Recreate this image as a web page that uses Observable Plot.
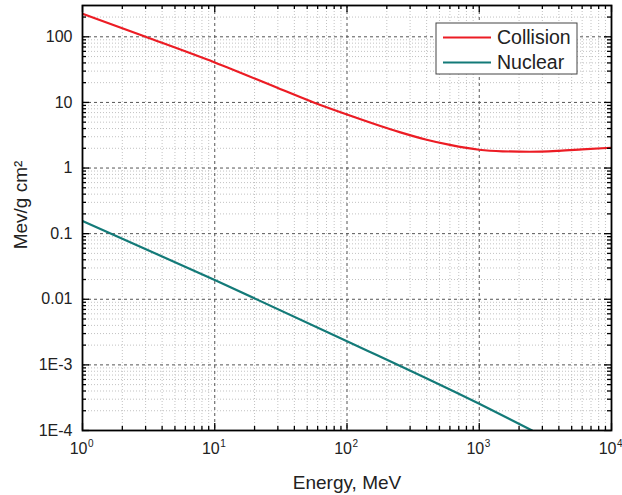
<!DOCTYPE html>
<html>
<head>
<meta charset="utf-8">
<script src="https://cdn.jsdelivr.net/npm/d3@7"></script>
<script src="https://cdn.jsdelivr.net/npm/@observablehq/plot@0.6"></script>
<style>
  body { margin: 0; background: #fff; }
  svg { font-family: "Liberation Sans", Arial, sans-serif; }
</style>
</head>
<body>
<div id="chart"></div>
<script>
// Stopping power series (energy in MeV, value in MeV/g cm^2)
const seriesNames = ["Collision", "Nuclear"];
const seriesColors = ["#ec1c24", "#137a78"];

const collisionEnergy = [1, 3, 10, 30, 56, 100, 250, 400, 600, 1000, 1500, 2400, 4000, 6000, 10000];
const collisionValue  = [224, 100, 40.6, 16.6, 10, 6.56, 3.53, 2.70, 2.25, 1.90, 1.80, 1.77, 1.83, 1.92, 2.04];

const nuclearEnergy = [1, 10, 100, 1000, 2510];
const nuclearValue  = [0.156, 0.0197, 0.0023, 0.000255, 0.0001];

// Axis ticks and labels
const xTickValues = [1, 10, 100, 1000, 10000];
const xTickBase = "10";
const xTickExponents = ["0", "1", "2", "3", "4"];
const yTickValues = [1e-4, 1e-3, 0.01, 0.1, 1, 10, 100];
const yTickLabels = ["1E-4", "1E-3", "0.01", "0.1", "1", "10", "100"];
const xLabel = "Energy, MeV";
const yLabel = "Mev/g cm\u00B2";

const rows = [
  ...collisionEnergy.map((e, i) => ({series: seriesNames[0], energy: e, value: collisionValue[i]})),
  ...nuclearEnergy.map((e, i) => ({series: seriesNames[1], energy: e, value: nuclearValue[i]}))
];

// minor log positions (2..9 within each decade)
const minorTicks = (k0, k1, max) => d3.range(k0, k1 + 1)
  .flatMap(k => d3.range(2, 10).map(m => +(m + "e" + k)))
  .filter(v => v < max);
const xMinor = minorTicks(0, 3, 1e4);
const yMinor = minorTicks(-4, 2, 300);

const W = 622, H = 495, mT = 5, mB = 65, mL = 82, mR = 11;
const ph = H - mT - mB, pw = W - mL - mR;
const major = 7, minor = 4;

const chart = Plot.plot({
  width: W,
  height: H,
  marginTop: mT,
  marginBottom: mB,
  marginLeft: mL,
  marginRight: mR,
  style: {background: "#fff", fontFamily: "'Liberation Sans', Arial, sans-serif"},
  x: {type: "log", domain: [1, 1e4], axis: null},
  y: {type: "log", domain: [1e-4, 300], axis: null},
  color: {domain: seriesNames, range: seriesColors},
  marks: [
    // grid
    Plot.ruleX(xMinor, {stroke: "#c2c2c2", strokeDasharray: "1,2", strokeWidth: 1}),
    Plot.ruleY(yMinor, {stroke: "#c2c2c2", strokeDasharray: "1,2", strokeWidth: 1}),
    Plot.ruleX(xTickValues, {stroke: "#555", strokeDasharray: "3,3", strokeWidth: 1}),
    Plot.ruleY(yTickValues, {stroke: "#555", strokeDasharray: "3,3", strokeWidth: 1}),
    // series
    Plot.line(rows, {x: "energy", y: "value", z: "series", stroke: "series", strokeWidth: 2.2, curve: "monotone-x", clip: true}),
    // inward ticks on all four sides
    Plot.tickX(xTickValues, {insetTop: ph - major, stroke: "#000", strokeWidth: 1.3}),
    Plot.tickX(xMinor, {insetTop: ph - minor, stroke: "#000", strokeWidth: 1.3}),
    Plot.tickX(xTickValues, {insetBottom: ph - major, stroke: "#000", strokeWidth: 1.3}),
    Plot.tickX(xMinor, {insetBottom: ph - minor, stroke: "#000", strokeWidth: 1.3}),
    Plot.tickY(yTickValues, {insetRight: pw - major, stroke: "#000", strokeWidth: 1.3}),
    Plot.tickY(yMinor, {insetRight: pw - minor, stroke: "#000", strokeWidth: 1.3}),
    Plot.tickY(yTickValues, {insetLeft: pw - major, stroke: "#000", strokeWidth: 1.3}),
    Plot.tickY(yMinor, {insetLeft: pw - minor, stroke: "#000", strokeWidth: 1.3}),
    Plot.frame({stroke: "#000", strokeWidth: 1.8}),
    // tick labels
    Plot.text(xTickValues, {x: d => d, frameAnchor: "bottom", text: () => xTickBase, textAnchor: "end", dx: 5, dy: 23, fontSize: 16, fill: "#222"}),
    Plot.text(xTickValues, {x: d => d, frameAnchor: "bottom", text: (d, i) => xTickExponents[i], textAnchor: "start", dx: 5.5, dy: 16, fontSize: 10, fill: "#222"}),
    Plot.text(yTickValues, {y: d => d, frameAnchor: "left", text: (d, i) => yTickLabels[i], textAnchor: "end", dx: -10, fontSize: 16, fill: "#222"}),
    // axis titles
    Plot.text([xLabel], {frameAnchor: "bottom", text: d => d, textAnchor: "middle", dy: 58, fontSize: 19, fill: "#222"}),
    Plot.text([yLabel], {frameAnchor: "left", text: d => d, textAnchor: "middle", rotate: -90, dx: -62, dy: -13, fontSize: 19, fill: "#222"})
  ]
});

// legend box in the upper right of the plot area
const svg = d3.select(chart);
const lg = svg.append("g").attr("transform", "translate(436,23)");
lg.append("rect").attr("width", 141).attr("height", 51)
  .attr("fill", "#fff").attr("stroke", "#444").attr("stroke-width", 1);
seriesNames.forEach((name, i) => {
  const y = 14.5 + i * 25;
  lg.append("line").attr("x1", 7).attr("x2", 55).attr("y1", y).attr("y2", y)
    .attr("stroke", seriesColors[i]).attr("stroke-width", 2.2);
  lg.append("text").attr("x", 61).attr("y", y).attr("dy", "0.35em")
    .style("text-anchor", "start").style("font-size", "19.5px")
    .attr("fill", "#222").text(name);
});

document.getElementById("chart").appendChild(chart);
</script>
</body>
</html>
